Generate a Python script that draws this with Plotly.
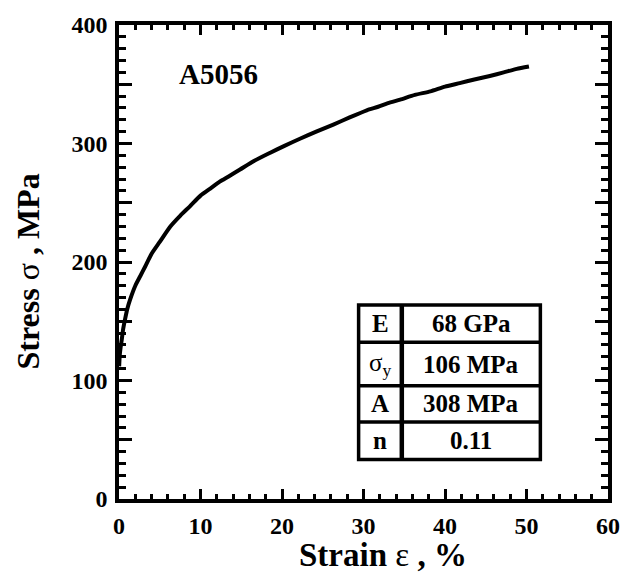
import plotly.graph_objects as go

# Tensile curve of A5056 aluminium alloy (strain in %, stress in MPa)
strain = [0.02, 0.1, 0.2, 0.35, 0.5, 0.75, 1.0, 1.35, 2.0, 2.6, 3.2, 4.0, 5.0,
          6.3, 7.5, 8.7, 10.0, 11.2, 12.4, 13.4, 14.85, 16.5, 18.5, 20.3, 22.2,
          24.2, 26.3, 28.3, 30.4, 31.8, 33.0, 34.5, 36.3, 38.2, 40.0, 41.8,
          43.6, 45.5, 47.2, 48.8, 50.3]
stress = [112, 122, 128, 135, 143, 152, 160, 168, 180, 188, 196, 207, 217,
          230, 239, 247, 256, 262, 268, 272, 278, 285, 292, 298, 304,
          310, 316, 322, 328, 331, 334, 337, 341, 344, 348, 351,
          354, 357, 360, 363, 365]

material = "A5056"

# Material constants shown in the inset table
param_names = ["E", "σ<sub>y</sub>", "A", "n"]
param_values = ["68 GPa", "106 MPa", "308 MPa", "0.11"]

x_ticks = [0, 10, 20, 30, 40, 50, 60]
y_ticks = [0, 100, 200, 300, 400]
y_half_ticks = [50, 150, 250, 350]

SERIF = "Liberation Serif"

fig = go.Figure()
fig.add_trace(go.Scatter(
    x=strain, y=stress, mode="lines",
    line=dict(color="black", width=4, shape="spline", smoothing=0.6),
    showlegend=False, hoverinfo="skip",
))

axis_common = dict(
    showgrid=False, zeroline=False,
    showline=True, linecolor="black", linewidth=3.5, mirror="ticks",
    ticks="inside", tickcolor="black", tickwidth=2.5,
    tickfont=dict(family=SERIF, size=24, color="black", weight="bold"),
)

fig.update_xaxes(
    range=[0, 60], tickvals=x_ticks, ticklen=10,
    minor=dict(dtick=2, ticks="inside", ticklen=5, tickwidth=2.5, tickcolor="black"),
    ticklabelstandoff=2,
    **axis_common,
)
fig.update_yaxes(
    range=[0, 400], tickvals=y_ticks, ticklen=13,
    minor=dict(dtick=10, ticks="inside", ticklen=7, tickwidth=2.5, tickcolor="black"),
    ticklabelstandoff=3,
    **axis_common,
)
# Unlabelled long ticks halfway between the labelled stress ticks
fig.update_layout(yaxis2=dict(
    overlaying="y", side="left", range=[0, 400], tickvals=y_half_ticks,
    ticks="inside", ticklen=13, tickwidth=2.5, tickcolor="black",
    showticklabels=False, showgrid=False, zeroline=False,
    showline=False, mirror="ticks",
))
fig.add_trace(go.Scatter(x=[None], y=[None], yaxis="y2", showlegend=False,
                         hoverinfo="skip"))

# Axis titles
fig.add_annotation(
    text="<b>Strain</b> ε <b>, %</b>", xref="paper", yref="paper",
    x=0.54, y=-0.118, xanchor="center", yanchor="middle", showarrow=False,
    font=dict(family=SERIF, size=33, color="black"),
)
fig.add_annotation(
    text="<b>Stress</b> σ <b>, MPa</b>", xref="paper", yref="paper",
    x=-0.186, y=0.48, xanchor="center", yanchor="middle", showarrow=False,
    textangle=-90, font=dict(family=SERIF, size=32, color="black"),
)

# Material label
fig.add_annotation(
    text=f"<b>{material}</b>", xref="paper", yref="paper",
    x=0.2025, y=0.897, xanchor="center", yanchor="middle", showarrow=False,
    font=dict(family=SERIF, size=29, color="black"),
)

# Inset table of constants
col_edges = [29.4, 34.7, 51.7]
row_edges = [163.8, 132.2, 95.6, 64.9, 33.3]
line_style = dict(color="black", width=3.5)
fig.add_shape(type="rect", x0=col_edges[0], x1=col_edges[2],
              y0=row_edges[-1], y1=row_edges[0], line=line_style,
              fillcolor="white", layer="above")
fig.add_shape(type="line", x0=col_edges[1], x1=col_edges[1],
              y0=row_edges[-1], y1=row_edges[0], line=dict(color="black", width=4.5))
for yb in row_edges[1:-1]:
    fig.add_shape(type="line", x0=col_edges[0], x1=col_edges[2],
                  y0=yb, y1=yb, line=line_style)

for i, (name, val) in enumerate(zip(param_names, param_values)):
    yc = (row_edges[i] + row_edges[i + 1]) / 2
    label_text = name if name.startswith("σ") else f"<b>{name}</b>"
    fig.add_annotation(
        text=label_text, x=(col_edges[0] + col_edges[1]) / 2, y=yc,
        xanchor="center", yanchor="middle", showarrow=False,
        font=dict(family=SERIF, size=25, color="black"),
    )
    fig.add_annotation(
        text=f"<b>{val}</b>", x=(col_edges[1] + col_edges[2]) / 2, y=yc,
        xanchor="center", yanchor="middle", showarrow=False,
        font=dict(family=SERIF, size=25, color="black"),
    )

fig.update_layout(
    width=635, height=575,
    margin=dict(l=119, r=27, t=18, b=76),
    paper_bgcolor="white", plot_bgcolor="white",
)

fig.write_html("out.html")
